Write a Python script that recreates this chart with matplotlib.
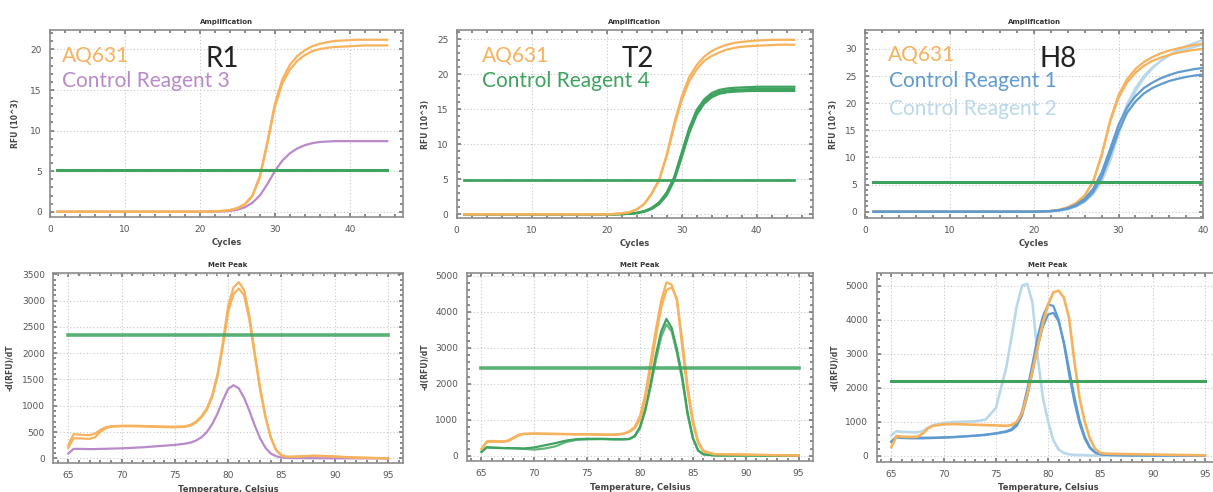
import numpy as np
import matplotlib
matplotlib.use("Agg")
import matplotlib.pyplot as plt
from matplotlib.ticker import MultipleLocator

W, H = 1213, 492

# ---- amplification data (RFU x 10^3) ----
cyc45 = [1, 5, 10, 15, 20, 21, 22, 23, 24, 25, 26, 27, 28, 29, 30, 31, 32, 33, 34, 35,
         36, 37, 38, 39, 40, 41, 42, 43, 44, 45]
cyc40 = [1, 5, 10, 15, 20, 21, 22, 23, 24, 25, 26, 27, 28, 29, 30, 31, 32, 33, 34, 35,
         36, 37, 38, 39, 40]

r1_aq_a = [0, 0, 0, 0, 0, 0.02, 0.05, 0.1, 0.2, 0.45, 0.95, 2.0, 4.4, 8.6, 13.3, 16.3, 18.1,
           19.2, 19.9, 20.4, 20.7, 20.9, 21.05, 21.1, 21.15, 21.2, 21.2, 21.2, 21.2, 21.2]
r1_aq_b = [0, 0, 0, 0, 0, 0.02, 0.05, 0.1, 0.2, 0.42, 0.9, 1.9, 4.2, 8.4, 12.9, 15.8, 17.5,
           18.6, 19.3, 19.8, 20.05, 20.2, 20.3, 20.35, 20.4, 20.45, 20.5, 20.5, 20.5, 20.5]
r1_c3 = [0, 0, 0, 0, 0, 0.0, 0.02, 0.05, 0.1, 0.25, 0.55, 1.1, 2.0, 3.4, 5.0, 6.3, 7.2,
         7.8, 8.2, 8.45, 8.6, 8.65, 8.7, 8.7, 8.7, 8.7, 8.7, 8.7, 8.7, 8.7]

t2_aq_a = [0, 0, 0, 0, 0, 0.05, 0.15, 0.3, 0.7, 1.5, 3.0, 5.0, 8.5, 13.0, 16.8, 19.6, 21.3,
           22.5, 23.3, 23.8, 24.2, 24.45, 24.6, 24.7, 24.8, 24.85, 24.9, 24.9, 24.9, 24.9]
t2_aq_b = [0, 0, 0, 0, 0, 0.05, 0.14, 0.29, 0.68, 1.45, 2.9, 4.85, 8.3, 12.6, 16.3, 19.0,
           20.7, 21.9, 22.6, 23.1, 23.5, 23.75, 23.9, 24.0, 24.05, 24.1, 24.15, 24.2, 24.2, 24.2]
t2_c4_a = [0, 0, 0, 0, 0, 0.0, 0.03, 0.08, 0.2, 0.45, 0.9, 1.7, 3.1, 5.3, 8.8, 12.3, 14.9,
           16.4, 17.3, 17.75, 17.95, 18.05, 18.1, 18.15, 18.2, 18.2, 18.2, 18.2, 18.2, 18.2]
t2_c4_b = [0, 0, 0, 0, 0, 0.0, 0.03, 0.08, 0.2, 0.44, 0.88, 1.67, 3.05, 5.2, 8.65, 12.1,
           14.65, 16.1, 17.0, 17.45, 17.65, 17.75, 17.8, 17.85, 17.9, 17.9, 17.9, 17.9, 17.9, 17.9]
t2_c4_c = [0, 0, 0, 0, 0, 0.0, 0.02, 0.06, 0.15, 0.35, 0.75, 1.45, 2.7, 4.8, 8.1, 11.6,
           14.2, 15.8, 16.7, 17.2, 17.4, 17.5, 17.55, 17.6, 17.6, 17.6, 17.6, 17.6, 17.6, 17.6]

h8_aq_a = [0, 0, 0, 0, 0, 0.05, 0.15, 0.35, 0.8, 1.6, 3.0, 5.6, 10.5, 16.8, 21.5, 24.4,
           26.3, 27.6, 28.5, 29.2, 29.7, 30.1, 30.45, 30.75, 31.0]
h8_aq_b = [0, 0, 0, 0, 0, 0.05, 0.15, 0.35, 0.8, 1.6, 3.0, 5.5, 10.3, 16.5, 21.0, 23.8,
           25.6, 26.9, 27.8, 28.4, 28.9, 29.3, 29.6, 29.85, 30.0]
h8_c1_a = [0, 0, 0, 0, 0, 0.05, 0.12, 0.3, 0.65, 1.3, 2.4, 4.2, 7.2, 11.5, 16.0, 19.2,
           21.3, 22.8, 23.8, 24.6, 25.2, 25.7, 26.0, 26.3, 26.5]
h8_c1_b = [0, 0, 0, 0, 0, 0.05, 0.1, 0.25, 0.55, 1.1, 2.0, 3.6, 6.3, 10.4, 14.8, 18.2,
           20.3, 21.8, 22.8, 23.5, 24.1, 24.5, 24.85, 25.1, 25.3]
h8_c2_a = [0, 0, 0, 0, 0, 0.03, 0.08, 0.2, 0.45, 0.95, 1.8, 3.2, 5.5, 9.3, 14.2, 18.8,
           22.2, 24.6, 26.4, 27.8, 28.9, 29.8, 30.5, 31.1, 31.7]
h8_c2_b = [0, 0, 0, 0, 0, 0.03, 0.08, 0.2, 0.5, 1.0, 2.0, 3.6, 6.3, 10.5, 15.5, 19.8,
           22.8, 25.0, 26.6, 27.8, 28.8, 29.5, 30.0, 30.4, 30.8]

amp_thresh = [5.2, 4.9, 5.5]

# ---- melt peak data (-d(RFU)/dT) ----
temp = [65, 65.5, 66, 67, 67.5, 68, 68.5, 69, 70, 71, 72, 73, 74, 75, 76, 76.5, 77, 77.5,
        78, 78.5, 79, 79.5, 80, 80.5, 81, 81.5, 82, 82.5, 83, 83.5, 84, 84.5, 85, 85.5,
        86, 87, 88, 89, 90, 91, 92, 93, 94, 95]

r1m_aq_a = [250, 460, 450, 440, 470, 540, 590, 610, 620, 620, 615, 610, 605, 600, 610, 640,
            700, 800, 950, 1200, 1600, 2200, 2900, 3250, 3350, 3200, 2700, 2000, 1350, 800,
            400, 160, 60, 30, 30, 40, 50, 45, 35, 25, 15, 10, 5, 0]
r1m_aq_b = [200, 380, 380, 370, 400, 500, 570, 600, 610, 610, 605, 600, 595, 590, 600, 625,
            680, 780, 920, 1160, 1550, 2120, 2780, 3120, 3230, 3100, 2620, 1950, 1300, 780,
            390, 150, 55, 28, 28, 38, 48, 42, 32, 22, 14, 9, 4, 0]
r1m_c3 = [90, 180, 180, 175, 175, 180, 180, 185, 190, 200, 210, 225, 240, 255, 280, 300,
          340, 400, 500, 650, 850, 1100, 1320, 1390, 1330, 1150, 900, 620, 380, 200, 90, 40,
          15, 8, 5, 3, 2, 1, 0, 0, 0, 0, 0, 0]

t2m_aq_a = [200, 400, 410, 400, 420, 500, 580, 610, 620, 615, 610, 605, 600, 600, 595, 590,
            590, 590, 600, 620, 680, 800, 1100, 1700, 2600, 3500, 4300, 4820, 4750, 4300,
            3000, 1800, 900, 350, 120, 40, 40, 35, 30, 25, 20, 15, 10, 5]
t2m_aq_b = [180, 380, 390, 385, 400, 480, 560, 600, 610, 605, 600, 595, 590, 590, 585, 580,
            580, 580, 590, 610, 660, 760, 1000, 1550, 2400, 3300, 4100, 4600, 4680, 4350,
            3200, 1950, 1000, 400, 140, 45, 40, 35, 30, 25, 20, 15, 10, 5]
t2m_c4_a = [100, 230, 220, 210, 210, 210, 205, 200, 230, 290, 350, 420, 460, 470, 470, 470,
            465, 460, 460, 460, 470, 550, 800, 1300, 2000, 2800, 3450, 3800, 3550, 2950, 2200,
            1200, 500, 150, 40, 10, 5, 5, 5, 5, 0, 0, 0, 0]
t2m_c4_b = [120, 240, 230, 215, 210, 205, 200, 190, 170, 200, 260, 380, 440, 455, 460, 460,
            455, 450, 450, 450, 460, 530, 760, 1250, 1900, 2650, 3300, 3650, 3450, 2850, 2100,
            1150, 480, 140, 35, 10, 5, 5, 5, 5, 0, 0, 0, 0]

h8m_aq = [250, 580, 560, 550, 560, 650, 800, 880, 920, 930, 920, 910, 900, 890, 880, 900,
          1000, 1250, 1800, 2500, 3200, 3900, 4450, 4800, 4850, 4650, 4050, 2800, 1700, 1000,
          500, 200, 80, 60, 55, 50, 45, 40, 35, 30, 25, 20, 15, 10]
h8m_c1_a = [420, 560, 540, 530, 530, 530, 530, 530, 540, 550, 570, 590, 620, 660, 720, 780,
            950, 1300, 1950, 2700, 3500, 4100, 4450, 4400, 4000, 3300, 2400, 1600, 950, 500,
            220, 90, 40, 25, 20, 15, 10, 10, 5, 5, 5, 0, 0, 0]
h8m_c1_b = [400, 540, 520, 510, 510, 510, 515, 520, 530, 545, 565, 585, 610, 650, 700, 750,
            880, 1180, 1750, 2450, 3200, 3800, 4150, 4200, 3950, 3350, 2550, 1750, 1050, 560,
            250, 100, 45, 25, 20, 15, 10, 10, 5, 5, 5, 0, 0, 0]
h8m_c2 = [600, 720, 700, 690, 690, 720, 820, 900, 960, 990, 1000, 1010, 1060, 1400, 2600,
          3500, 4400, 5000, 5050, 4500, 2900, 1700, 1000, 450, 180, 80, 40, 25, 20, 15, 10, 5,
          5, 5, 5, 5, 0, 0, 0, 0, 0, 0, 0, 0]

melt_thresh = [2340, 2440, 2200]

ORANGE = "#f6b25c"
PURPLE = "#b98ac9"
GREEN = "#3ea35e"
BLUE = "#5f9bd0"
LBLUE = "#b9d8ea"


def add_ax(left, top, right, bottom):
    return fig.add_axes([left / W, 1 - bottom / H, (right - left) / W, (bottom - top) / H])


def style(ax, title, xlabel, ylabel, xmaj, xmin, ymaj, ymin, ylab_px):
    ax.set_title(title, fontsize=5, fontweight="bold", color="#333333", pad=4)
    ax.set_xlabel(xlabel, fontsize=6, fontweight="bold", color="#444444", labelpad=3)
    ax.set_ylabel(ylabel, fontsize=5.5, fontweight="bold", color="#444444")
    bb = ax.get_position()
    ax.yaxis.set_label_coords((ylab_px / W - bb.x0) / bb.width, 0.5)
    ax.xaxis.set_major_locator(MultipleLocator(xmaj))
    ax.xaxis.set_minor_locator(MultipleLocator(xmin))
    ax.yaxis.set_major_locator(MultipleLocator(ymaj))
    ax.yaxis.set_minor_locator(MultipleLocator(ymin))
    ax.tick_params(which="both", direction="in", top=True, right=True, colors="#777777",
                   labelsize=6.5, labelcolor="#555555", pad=6)
    ax.tick_params(which="major", length=3, width=1.2)
    ax.tick_params(which="minor", length=2, width=1.2)
    ax.grid(True, which="major", linestyle=(0, (1, 2)), color="#c8c8c8", linewidth=0.8)
    for s in ax.spines.values():
        s.set_color("#8c8c8c")
        s.set_linewidth(1.2)


fig = plt.figure(figsize=(W / 100, H / 100), dpi=100)
LW = 1.6
FONT = "Lato"

# top left R1
ax = add_ax(50, 30, 403, 217)
ax.plot(cyc45, r1_c3, color=PURPLE, lw=LW)
ax.plot(cyc45, r1_aq_a, color=ORANGE, lw=LW)
ax.plot(cyc45, r1_aq_b, color=ORANGE, lw=LW)
ax.plot([1, 45], [amp_thresh[0]] * 2, color=GREEN, lw=2.2)
ax.set_xlim(0, 47.1)
ax.set_ylim(-0.65, 22.4)
style(ax, "Amplification", "Cycles", "RFU (10^3)", 10, 2, 5, 1, 20)

# top middle T2
ax = add_ax(456.7, 30, 813, 218)
ax.plot(cyc45, t2_c4_a, color=GREEN, lw=LW)
ax.plot(cyc45, t2_c4_b, color=GREEN, lw=LW)
ax.plot(cyc45, t2_c4_c, color=GREEN, lw=LW)
ax.plot(cyc45, t2_aq_a, color=ORANGE, lw=LW)
ax.plot(cyc45, t2_aq_b, color=ORANGE, lw=LW)
ax.plot([1, 45], [amp_thresh[1]] * 2, color=GREEN, lw=2.0)
ax.set_xlim(0, 47.5)
ax.set_ylim(-0.53, 26.3)
style(ax, "Amplification", "Cycles", "RFU (10^3)", 10, 2, 5, 1, 430)

# top right H8
ax = add_ax(865, 30, 1203, 218)
ax.plot(cyc40, h8_c2_a, color=LBLUE, lw=LW)
ax.plot(cyc40, h8_c2_b, color=LBLUE, lw=LW)
ax.plot(cyc40, h8_aq_a, color=ORANGE, lw=LW)
ax.plot(cyc40, h8_aq_b, color=ORANGE, lw=LW)
ax.plot(cyc40, h8_c1_a, color=BLUE, lw=LW)
ax.plot(cyc40, h8_c1_b, color=BLUE, lw=LW)
ax.plot([1, 40], [amp_thresh[2]] * 2, color=GREEN, lw=2.2)
ax.set_xlim(0, 40)
ax.set_ylim(-1.16, 33.5)
style(ax, "Amplification", "Cycles", "RFU (10^3)", 10, 2, 5, 1, 838)

# bottom left R1 melt
ax = add_ax(53.3, 273, 403, 463)
ax.plot(temp, r1m_c3, color=PURPLE, lw=LW)
ax.plot(temp, r1m_aq_a, color=ORANGE, lw=LW)
ax.plot(temp, r1m_aq_b, color=ORANGE, lw=LW)
ax.plot([65, 95], [melt_thresh[0]] * 2, color=GREEN, lw=2.6, alpha=0.85)
ax.set_xlim(63.6, 96.4)
ax.set_ylim(-89, 3525)
style(ax, "Melt Peak", "Temperature, Celsius", "-d(RFU)/dT", 5, 1, 500, 100, 15)

# bottom middle T2 melt
ax = add_ax(466.7, 273, 813.3, 461)
ax.plot(temp, t2m_c4_b, color=GREEN, lw=LW, alpha=0.8)
ax.plot(temp, t2m_c4_a, color=GREEN, lw=LW)
ax.plot(temp, t2m_aq_a, color=ORANGE, lw=LW)
ax.plot(temp, t2m_aq_b, color=ORANGE, lw=LW)
ax.plot([65, 95], [melt_thresh[1]] * 2, color=GREEN, lw=2.6, alpha=0.85)
ax.set_xlim(63.6, 96.4)
ax.set_ylim(-147, 5077)
style(ax, "Melt Peak", "Temperature, Celsius", "-d(RFU)/dT", 5, 1, 1000, 200, 430)

# bottom right H8 melt
ax = add_ax(876.7, 273, 1219.6, 462)
ax.plot(temp, h8m_c2, color=LBLUE, lw=LW + 0.3)
ax.plot(temp, h8m_c1_a, color=BLUE, lw=LW)
ax.plot(temp, h8m_c1_b, color=BLUE, lw=LW)
ax.plot(temp, h8m_aq, color=ORANGE, lw=LW + 0.3)
ax.plot([65, 95], [melt_thresh[2]] * 2, color=GREEN, lw=2.2)
ax.set_xlim(63.6, 96.4)
ax.set_ylim(-185, 5370)
style(ax, "Melt Peak", "Temperature, Celsius", "-d(RFU)/dT", 5, 1, 1000, 200, 840)

# overlay legend-style text
def txt(x, y, s, color, size):
    fig.text(x / W, 1 - y / H, s, color=color, fontsize=size, family=FONT, va="baseline")

txt(62, 61.7, "AQ631", ORANGE, 15)
txt(62.5, 87.3, "Control Reagent 3", PURPLE, 15)
txt(205, 66.7, "R1", "#222222", 20)

txt(481.7, 61.7, "AQ631", ORANGE, 15)
txt(481.7, 87.3, "Control Reagent 4", GREEN, 15)
txt(622, 66.7, "T2", "#222222", 20)

txt(888.3, 61, "AQ631", ORANGE, 15)
txt(889, 87.3, "Control Reagent 1", BLUE, 15)
txt(889, 115, "Control Reagent 2", LBLUE, 15)
txt(1040, 66.7, "H8", "#222222", 20)

fig.savefig("out.png", dpi=100)
